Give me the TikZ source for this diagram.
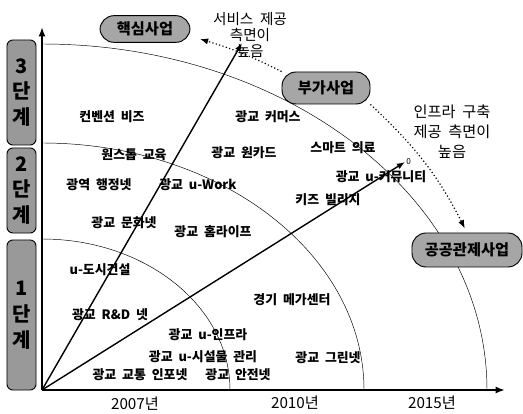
\documentclass[tikz,border=0pt]{standalone}
\usepackage{fontspec}
\setmainfont{Noto Sans CJK KR}[WordSpace=2]
\usetikzlibrary{arrows.meta}

\begin{document}
\begin{tikzpicture}[x=0.03cm, y=0.03cm,
    lbl/.style={font=\fontsize{11}{13}\selectfont\bfseries, inner sep=1pt},
    note/.style={font=\fontsize{12.5}{14}\selectfont, align=center, inner sep=0pt},
    pill/.style={draw, thick, fill=black!35, rounded corners=12pt, inner sep=0pt,
        font=\fontsize{13}{15}\selectfont\bfseries},
    stagebox/.style={draw, thick, fill=black!40, rounded corners=5pt, inner sep=0pt,
        minimum width=0.87cm, align=center, font=\fontsize{17}{22}\selectfont\bfseries},
    dotarrow/.style={dash pattern=on 1pt off 2pt, line width=1pt, -{Latex[length=7pt]}}]
    \useasboundingbox (-42,-24) rectangle (481,390);
    % axes
    \coordinate (o) at (0,0);
    \coordinate (xend) at (463,0);
    \coordinate (yend) at (0,363);
    \draw[line width=2pt, -{Latex[length=8pt]}] (o) -- (xend);
    \draw[line width=2pt, -{Latex[length=8pt]}] (o) -- (yend);
    % stage arcs
    \draw (0,151) arc[start angle=90, end angle=0, x radius=188, y radius=151];
    \draw (0,247) arc[start angle=90, end angle=0, x radius=322, y radius=247];
    \draw (0,346) arc[start angle=90, end angle=0, x radius=445, y radius=346];
    % stages
    \node[stagebox, minimum height=3.15cm] (st3) at (-20.5,297.5) {3\\단\\계};
    \node[stagebox, minimum height=2.55cm] (st2) at (-20.5,199.5) {2\\단\\계};
    \node[stagebox, minimum height=4.5cm] (st1) at (-20.5,75) {1\\단\\계};
    % years
    \node[font=\fontsize{13}{15}\selectfont] (y07) at (93,-14) {2007년};
    \node[font=\fontsize{13}{15}\selectfont] (y10) at (253,-13) {2010년};
    \node[font=\fontsize{13}{15}\selectfont] (y15) at (390,-13) {2015년};
    % services
    \foreach \x/\y/\t [count=\i] in {70/273/컨벤션 비즈, 226/273/광교 커머스,
        92/235/원스톱 교육, 202/237/광교 원카드, 301/242/스마트 의료,
        57/205/광역 행정넷, 156/205/광교 u-Work, 339/213/광교 u-커뮤니티,
        286/190/키즈 빌리지, 82/167/광교 문화넷, 171/158/광교 홈라이프,
        58/120/u-도시건설, 68/75/광교 R\&D 넷, 250/90/경기 메가센터,
        166/55/광교 u-인프라, 161/33/광교 u-시설물 관리,
        98/15/광교 교통 인포넷, 196/15/광교 안전넷, 286/32/광교 그린넷}
        \node[lbl] (s\i) at (\x,\y) {\t};
    % directions
    \coordinate (svc) at (200,347);
    \coordinate (infra) at (363,228);
    \draw[line width=1.2pt, -{Latex[length=7pt]}] (o) -- (svc);
    \draw[line width=1.2pt, -{Latex[length=7pt]}] (o) -- (infra);
    \node[font=\scriptsize, right, inner sep=1pt] (zero) at (infra) {0};
    \node[note] (svcnote) at (208,355) {서비스 제공\\측면이\\높음};
    \node[note, font=\fontsize{13}{17}\selectfont] (infranote) at (410,258) {인프라 구축\\제공 측면이\\높음};
    % business types
    \node[pill, minimum width=2.7cm, minimum height=0.8cm] (core) at (103,361) {핵심사업};
    \node[pill, minimum width=2.64cm, minimum height=0.96cm] (addon) at (284,302) {부가사업};
    \node[pill, minimum width=3.3cm, minimum height=1.02cm] (public) at (425,140) {공공관제사업};
    \coordinate (coretip) at (158,351);
    \draw[dotarrow] (addon.north west) to[bend right=5] (coretip);
    \draw[dotarrow, shorten >=4pt] (addon.south east) to[bend left=10] (public.north);
\end{tikzpicture}
\end{document}
